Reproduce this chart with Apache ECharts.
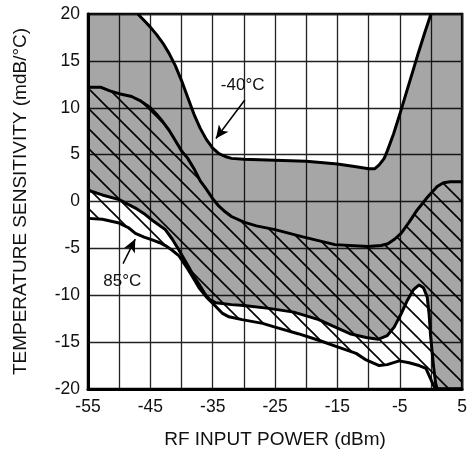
<!DOCTYPE html>
<html><head><meta charset="utf-8">
<script src="https://cdn.jsdelivr.net/npm/echarts@6/dist/echarts.min.js"></script>
<style>html,body{margin:0;padding:0;background:#fff}#c{width:470px;height:454px}</style>
</head><body><div id="c"></div>
<script>
// ---- data ----
const xTickLabels = [-55, -45, -35, -25, -15, -5, 5];
const yTickLabels = [-20, -15, -10, -5, 0, 5, 10, 15, 20];

// -40°C band, upper boundary
const coldUpper = [[-47,20],[-46,19.3],[-45,18.6],[-44,17.8],[-43,16.9],[-42,15.8],[-41,14.5],[-40,12.9],[-39,11.1],[-38,9.3],[-37,7.8],[-36,6.6],[-35,5.7],[-34,5.1],[-33,4.8],[-32,4.6],[-30,4.5],[-25,4.4],[-20,4.3],[-15,4.0],[-12,3.7],[-10,3.5],[-9,3.5],[-8.3,3.9],[-7.5,4.6],[-7,5.4],[-6,7.2],[-5,9.3],[-4,11.5],[-3,13.7],[-2,15.9],[-1,18.0],[0,20]];
// -40°C band, lower boundary
const coldLower = [[-55,1.2],[-52.7,0.7],[-50,0.2],[-47.4,-0.7],[-46,-1.3],[-44.7,-2.0],[-42.6,-3.0],[-41.5,-4.0],[-40.4,-5.2],[-39,-6.8],[-38,-8.0],[-37.2,-8.8],[-36.3,-9.8],[-35.6,-10.4],[-34.5,-10.8],[-32,-11.0],[-30,-11.1],[-26,-11.4],[-22,-11.8],[-18,-12.6],[-15.7,-13.3],[-13,-14.1],[-10.4,-14.5],[-8.5,-14.7],[-7,-14.3],[-5.9,-13.4],[-4.8,-12.0],[-3.75,-10.5],[-2.8,-9.4],[-1.9,-8.9],[-1.2,-9.2],[-0.6,-10.2],[-0.3,-12],[-0.05,-14.4],[0.4,-17.5],[0.75,-19.4],[1,-20],[5,-20]];
// 85°C band, upper boundary
const hotUpper = [[-55,12.2],[-53,12.2],[-51.5,11.8],[-50,11.5],[-48,11.2],[-46.5,10.7],[-45,10.0],[-44,9.3],[-43,8.5],[-42,7.6],[-41,6.5],[-40,5.4],[-39,4.6],[-38,3.5],[-37,2.2],[-36,1.3],[-35,0.3],[-34,-0.5],[-33,-1.1],[-32,-1.6],[-30,-2.2],[-28,-2.6],[-25,-3.0],[-20.7,-3.75],[-15.4,-4.6],[-10.1,-4.8],[-8,-4.7],[-6.9,-4.5],[-5.8,-4.0],[-4.8,-3.4],[-3.5,-2.2],[-2.2,-0.9],[-0.5,0.5],[1,1.6],[2,2.0],[3.1,2.1],[5,2.1]];
// 85°C band, lower boundary
const hotLower = [[-55,-1.8],[-52.7,-1.9],[-50,-2.3],[-48.5,-2.8],[-47.4,-3.4],[-46,-3.8],[-44.7,-4.1],[-43.5,-4.4],[-42.6,-4.7],[-41.5,-5.2],[-40.4,-5.8],[-39,-7.2],[-38,-8.3],[-37.2,-9.2],[-36,-10.2],[-34.5,-11.2],[-33.5,-11.9],[-32.4,-12.3],[-30.3,-12.6],[-27,-13.0],[-25,-13.4],[-21.3,-14.1],[-18,-14.8],[-15,-15.5],[-12,-16.2],[-10.4,-16.9],[-8.3,-17.5],[-7,-17.4],[-5.1,-17.0],[-3.5,-17.2],[-1.9,-17.5],[-0.8,-17.8],[0,-19.0],[0.5,-19.75],[1.2,-20],[5,-20]];

const labelTexts = ['-40°C', '85°C'];
const labelAt = [[-30.2, 12.4], [-49.5, -8.5]];
const arrowFrom = [[-29.85, 10.83], [-49.38, -6.63]];
const arrowTo = [[-34.49, 6.72], [-47.42, -4.01]];

// ---- chart ----
const X_MIN = -55, X_MAX = 5, Y_MIN = -20, Y_MAX = 20;
const FONT = 'Liberation Sans, Arial, Helvetica, sans-serif';

function hatchCanvas() {
  const s = 20;
  const c = document.createElement('canvas');
  c.width = s; c.height = s;
  const g = c.getContext('2d');
  g.strokeStyle = '#000';
  g.lineWidth = 1.6;
  g.beginPath();
  for (const o of [-s, 0, s]) { g.moveTo(o - 2, -2); g.lineTo(o + s + 2, s + 2); }
  g.stroke();
  return c;
}
const hatchImg = hatchCanvas();

const grayPoly = [[X_MIN, Y_MAX]].concat(coldUpper, [[X_MAX, Y_MAX]], coldLower.slice().reverse());
const hatchPoly = hotUpper.concat(hotLower.slice().reverse());

function polySeries(poly, fill) {
  return {
    type: 'custom', coordinateSystem: 'cartesian2d', silent: true, clip: true,
    data: [[X_MIN, Y_MIN]],
    renderItem: function (params, api) {
      return { type: 'polygon', shape: { points: poly.map(p => api.coord(p)) }, style: { fill: fill, stroke: null } };
    }
  };
}
function curve(data) {
  return { type: 'line', data: data, showSymbol: false, silent: true, smooth: false,
    lineStyle: { color: '#000', width: 3 }, z: 3 };
}

const chart = echarts.init(document.getElementById('c'), null, { renderer: 'canvas' });
chart.setOption({
  animation: false,
  backgroundColor: '#fff',
  textStyle: { fontFamily: FONT },
  grid: { left: 88, right: 5, top: 14, bottom: 65, show: true, borderColor: '#000', borderWidth: 2.5, backgroundColor: 'transparent' },
  xAxis: {
    type: 'value', min: X_MIN, max: X_MAX, interval: 5,
    name: 'RF INPUT POWER (dBm)', nameLocation: 'middle', nameGap: 41,
    nameTextStyle: { fontFamily: FONT, fontSize: 19, color: '#111' },
    axisLine: { show: true, onZero: false, lineStyle: { color: '#000', width: 3 } },
    axisTick: { show: false },
    splitLine: { show: true, lineStyle: { color: '#222', width: 1.3 } },
    axisLabel: { margin: 9, fontFamily: FONT, fontSize: 17.5, color: '#111',
      formatter: v => xTickLabels.indexOf(Math.round(v)) >= 0 ? String(Math.round(v)) : '' }
  },
  yAxis: {
    type: 'value', min: Y_MIN, max: Y_MAX, interval: 5,
    name: 'TEMPERATURE SENSITIVITY (mdB/°C)', nameLocation: 'middle', nameGap: 58,
    nameTextStyle: { fontFamily: FONT, fontSize: 19, color: '#111' },
    axisLine: { show: true, onZero: false, lineStyle: { color: '#000', width: 3 } },
    axisTick: { show: false },
    splitLine: { show: true, lineStyle: { color: '#222', width: 1.3 } },
    axisLabel: { margin: 8, fontFamily: FONT, fontSize: 17.5, color: '#111',
      formatter: v => yTickLabels.indexOf(Math.round(v)) >= 0 ? String(Math.round(v)) : '' }
  },
  series: [
    polySeries(grayPoly, 'rgba(0,0,0,0.35)'),
    polySeries(hatchPoly, { image: hatchImg, repeat: 'repeat' }),
    curve(coldUpper), curve(hotUpper), curve(coldLower),
    Object.assign(curve(hotLower), {
      markLine: {
        silent: true, symbol: ['none', 'arrow'], symbolSize: [9, 13],
        lineStyle: { color: '#000', width: 1.5, type: 'solid' }, label: { show: false },
        data: arrowFrom.map((p, i) => [{ coord: p }, { coord: arrowTo[i] }])
      },
      markPoint: {
        silent: true, symbol: 'circle', symbolSize: 0,
        label: { show: true, position: 'inside', fontFamily: FONT, fontSize: 17, color: '#111', formatter: p => p.name },
        data: labelTexts.map((t, i) => ({ name: t, coord: labelAt[i] }))
      }
    })
  ]
});
</script></body></html>
